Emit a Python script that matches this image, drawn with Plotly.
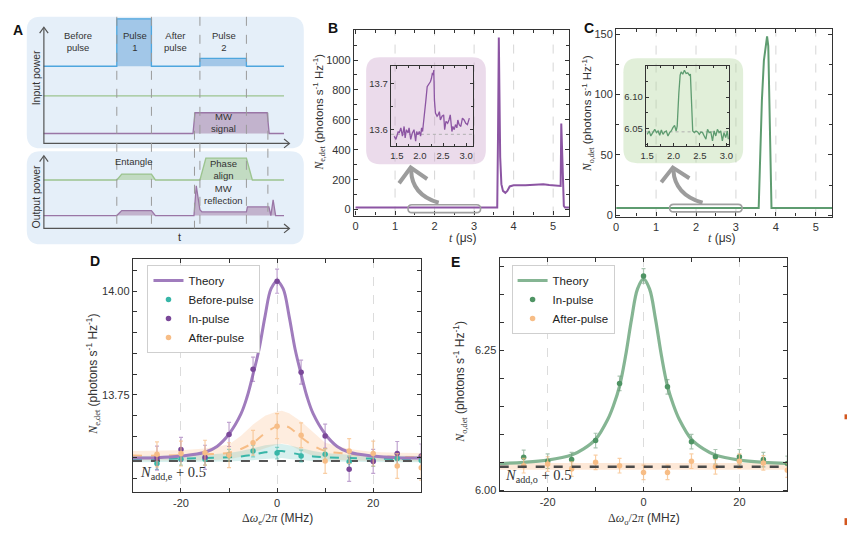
import plotly.graph_objects as go

W, H = 851, 537

# ---------------- Panel A: schematic (pixel units) ----------------
a_in_blue_x = [39, 113, 113, 148, 148, 197, 197, 244, 244, 282]
a_in_blue_y = [66, 66, 18, 18, 66, 66, 58, 58, 66, 66]
a_in_green_x = [39, 282]
a_in_green_y = [96, 96]
a_in_purple_x = [39, 190, 192, 265, 267, 282]
a_in_purple_y = [134, 134, 113, 113, 134, 134]
a_out_green_x = [39, 113, 118, 148, 152, 197, 203, 244, 250, 282]
a_out_green_y = [181, 181, 175, 175, 181, 181, 159, 159, 181, 181]
a_out_purple_x = [39, 113, 118, 148, 152, 191, 193.3, 197, 199, 244, 245, 266.7, 268.7, 271, 273.5, 282]
a_out_purple_y = [217, 217, 212, 212, 217, 217, 187, 211, 213.3, 213.3, 208.3, 208.3, 217, 201, 217, 217]
a_dash_full = [113, 148, 197, 244]
a_dash_mw = [191.5, 265.7]

# ---------------- Panel B ----------------
b_t = [0, 3.585, 3.605, 3.625, 3.64, 3.66, 3.69, 3.73, 3.79, 3.84, 3.9, 4.0, 4.3, 4.6, 4.75, 4.9, 5.05, 5.19, 5.205, 5.22, 5.245, 5.27, 5.3, 5.45]
b_n = [13.6, 13.6, 500, 1150, 800, 350, 170, 125, 112, 125, 155, 162, 162, 164, 170, 165, 160, 158, 575, 420, 150, 25, 13.6, 13.6]
b_ticks = [0, 200, 400, 600, 800, 1000]
b_in_t = [1.443, 1.479, 1.529, 1.55, 1.586, 1.621, 1.657, 1.679, 1.707, 1.743, 1.764, 1.80, 1.836, 1.871, 1.907,
          1.929, 1.957, 1.986, 2.014, 2.036, 2.057, 2.086, 2.107, 2.129, 2.157, 2.179, 2.207, 2.229, 2.25, 2.271,
          2.286, 2.30, 2.314, 2.336, 2.371, 2.393, 2.421, 2.443, 2.479, 2.514, 2.536, 2.564, 2.60, 2.629, 2.657,
          2.693, 2.714, 2.743, 2.771, 2.80, 2.821, 2.85, 2.886, 2.921, 2.957, 2.993, 3.029, 3.071]
b_in_n = [13.586, 13.579, 13.596, 13.593, 13.604, 13.586, 13.607, 13.582, 13.600, 13.593, 13.604, 13.579, 13.593,
          13.600, 13.575, 13.596, 13.589, 13.596, 13.586, 13.604, 13.596, 13.621, 13.632, 13.664, 13.693, 13.696,
          13.700, 13.704, 13.711, 13.723, 13.718, 13.729, 13.664, 13.636, 13.629, 13.632, 13.639, 13.621, 13.629,
          13.632, 13.600, 13.618, 13.614, 13.621, 13.632, 13.596, 13.607, 13.600, 13.611, 13.604, 13.621, 13.611,
          13.607, 13.625, 13.621, 13.614, 13.611, 13.625]
b_in_ref = 13.59
b_grid = [1, 2, 3, 4, 5]

# ---------------- Panel C ----------------
c_t = [0, 3.57, 3.6, 3.65, 3.7, 3.75, 3.78, 3.81, 3.84, 3.87, 3.89, 5.45]
c_n = [6.05, 6.05, 40, 95, 128, 143, 148, 140, 90, 25, 6.05, 6.05]
c_in_t = [1.5, 1.538, 1.569, 1.613, 1.644, 1.675, 1.706, 1.738, 1.769, 1.8, 1.831, 1.863, 1.894, 1.925, 1.956,
          1.988, 2.019, 2.05, 2.069, 2.1, 2.125, 2.144, 2.175, 2.206, 2.238, 2.269, 2.3, 2.319, 2.344, 2.363,
          2.394, 2.425, 2.456, 2.488, 2.519, 2.55, 2.581, 2.613, 2.644, 2.675, 2.706, 2.738, 2.769, 2.8, 2.831,
          2.863, 2.894, 2.925, 2.956, 2.988, 3.019, 3.038]
c_in_n = [6.0411, 6.0464, 6.0385, 6.0438, 6.049, 6.0438, 6.0464, 6.0396, 6.0479, 6.0411, 6.0448, 6.0464, 6.0385,
          6.0438, 6.0464, 6.0516, 6.0552, 6.0464, 6.0542, 6.1063, 6.1349, 6.1401, 6.1365, 6.1427, 6.1375, 6.1385,
          6.1349, 6.1365, 6.0906, 6.0464, 6.0438, 6.0464, 6.0448, 6.0411, 6.0448, 6.0438, 6.0385, 6.0333, 6.049,
          6.0438, 6.0448, 6.0307, 6.0464, 6.0385, 6.049, 6.0438, 6.0464, 6.0307, 6.0438, 6.0359, 6.0464, 6.0333]
c_in_ref = 6.045
c_grid = [1, 2, 3, 4, 5]

# ---------------- Panel D ----------------
d_det = [-25, -20, -15, -10, -5, 0, 5, 10, 15, 20, 25, 30]
d_in = [13.598, 13.619, 13.600, 13.655, 13.812, 14.024, 13.805, 13.651, 13.571, 13.590, 13.609, 13.603]
d_in_err = [0.029] * 12
d_before = [13.585, 13.595, 13.595, 13.605, 13.615, 13.610, 13.603, 13.607, 13.589, 13.592, 13.597, 13.592]
d_before_err = [0.014] * 12
d_after = [13.607, 13.609, 13.611, 13.605, 13.635, 13.675, 13.653, 13.591, 13.615, 13.609, 13.579, 13.575]
d_after_err = [0.03] * 12
d_th_x = [-30, -25, -20, -15, -12.5, -10, -7.5, -6.25, -5, -3.75, -2.5, -1.25, 0,
          1.25, 2.5, 3.75, 5, 6.25, 7.5, 10, 12.5, 15, 20, 25, 30]
d_th_y = [13.598, 13.599, 13.603, 13.612, 13.626, 13.656, 13.705, 13.745, 13.800, 13.860, 13.940, 14.006, 14.024,
          14.006, 13.940, 13.860, 13.800, 13.745, 13.705, 13.656, 13.626, 13.612, 13.603, 13.599, 13.598]
d_fit_x = [-30, -25, -20, -15, -10, -7.5, -5, -2.5, 0, 1, 2.5, 5, 7.5, 10, 15, 20, 25, 30]
d_bfit = [13.596, 13.596, 13.597, 13.598, 13.600, 13.602, 13.606, 13.612, 13.615, 13.615, 13.612, 13.606, 13.602,
          13.600, 13.598, 13.597, 13.596, 13.596]
d_bfit_hi = [13.603, 13.603, 13.604, 13.606, 13.610, 13.615, 13.622, 13.629, 13.632, 13.632, 13.629, 13.622,
             13.615, 13.610, 13.606, 13.604, 13.603, 13.603]
d_bfit_lo = [13.588, 13.588, 13.589, 13.589, 13.590, 13.591, 13.593, 13.596, 13.598, 13.598, 13.596, 13.593,
             13.591, 13.590, 13.589, 13.589, 13.588, 13.588]
d_afit = [13.604, 13.604, 13.605, 13.607, 13.611, 13.620, 13.635, 13.658, 13.675, 13.677, 13.672, 13.648, 13.628,
          13.615, 13.608, 13.603, 13.601, 13.600]
d_afit_hi = [13.615, 13.616, 13.617, 13.621, 13.631, 13.652, 13.679, 13.700, 13.710, 13.712, 13.706, 13.686, 13.660,
             13.635, 13.620, 13.613, 13.611, 13.610]
d_afit_lo = [13.592, 13.592, 13.592, 13.593, 13.595, 13.601, 13.611, 13.622, 13.631, 13.633, 13.630, 13.615, 13.603,
             13.595, 13.592, 13.592, 13.591, 13.590]
d_nadd = 13.591

# ---------------- Panel E ----------------
e_det = [-25, -20, -15, -10, -5, 0, 5, 10, 15, 20, 25, 30]
e_in = [6.059, 6.052, 6.055, 6.089, 6.191, 6.383, 6.185, 6.087, 6.060, 6.060, 6.055, 6.048]
e_in_err = [0.013] * 12
e_after = [6.044, 6.047, 6.038, 6.050, 6.044, 6.032, 6.032, 6.052, 6.042, 6.052, 6.049, 6.036]
e_after_err = [0.013] * 12
e_th_x = [-30, -25, -20, -15, -12.5, -10, -7.5, -6.25, -5, -3.75, -2.5, -1.25, 0,
          1.25, 2.5, 3.75, 5, 6.25, 7.5, 10, 12.5, 15, 20, 25, 30]
e_th_y = [6.048, 6.050, 6.054, 6.063, 6.074, 6.091, 6.126, 6.152, 6.186, 6.240, 6.306, 6.360, 6.378,
          6.360, 6.306, 6.240, 6.186, 6.152, 6.126, 6.091, 6.074, 6.063, 6.054, 6.050, 6.048]
e_band_x = [-30, 30]
e_band_hi = [6.049, 6.049]
e_band_lo = [6.037, 6.037]
e_nadd = 6.0423

# ---------------- colours ----------------
PURPLE = '#8c55a3'
PURPLE_TH = '#a07cbd'
PURPLE_PT = '#7a4899'
TEAL = '#38b6a8'
ORANGE = '#f7bd86'
GREEN = '#5e9c70'
GREEN_TH = '#85b593'
GREEN_PT = '#4f9464'
TXT = '#333333'

# ---------------- panel rectangles (pixels: left, top, right, bottom) ----------------
PB = (352.7, 29, 570, 217)
PC = (617.7, 28, 836, 218)
IB = (390, 66, 473, 147)
IC = (647.7, 66, 731.7, 147)
PD = (129.3, 260.7, 420.7, 496.7)
PE = (500, 260, 790.7, 496)


def xdom(r):
    return [r[0] / W, r[2] / W]


def ydom(r):
    return [1 - r[3] / H, 1 - r[1] / H]


def path_from(cmds, fx, fy):
    s = ''
    for c in cmds:
        op = c[0]
        nums = c[1:]
        pts = []
        for i in range(0, len(nums), 2):
            pts.append(f'{fx(nums[i]):.5f},{fy(nums[i + 1]):.5f}')
        s += op + ' '.join(pts) + ' '
    return s + 'Z'


def rrect(x0, y0, x1, y1, r, fx, fy):
    cmds = [('M', x0 + r, y0), ('L', x1 - r, y0), ('Q', x1, y0, x1, y0 + r), ('L', x1, y1 - r),
            ('Q', x1, y1, x1 - r, y1), ('L', x0 + r, y1), ('Q', x0, y1, x0, y1 - r), ('L', x0, y0 + r),
            ('Q', x0, y0, x0 + r, y0)]
    return path_from(cmds, fx, fy)


def pfx(x):
    return x / W


def pfy(y):
    return 1 - y / H


fig = go.Figure()


def add(tr):
    fig.add_trace(tr)


# ---------- Panel A traces ----------
def a_line(x, y, color, fillcolor=None, width=1.3):
    add(go.Scatter(x=x, y=y, xaxis='x', yaxis='y', mode='lines', line=dict(color=color, width=width),
                   fill='toself' if fillcolor else None, fillcolor=fillcolor, hoverinfo='skip', showlegend=False))


a_line(a_in_blue_x, a_in_blue_y, '#4ea6de', 'rgba(95,160,215,0.5)')
a_line(a_in_green_x, a_in_green_y, '#9cc48f')
a_line(a_in_purple_x, a_in_purple_y, '#9a76a6', 'rgba(165,130,170,0.55)')
a_line(a_out_green_x, a_out_green_y, '#9cc48f', 'rgba(160,200,140,0.5)')
a_line(a_out_purple_x, a_out_purple_y, '#9a76a6', 'rgba(165,130,170,0.55)')
for xs, ys in [([39.3, 39.3, 287], [27, 144, 144]), ([39.3, 39.3, 287], [157, 230, 230]),
               ([35, 39.3, 43.6], [32.5, 26.5, 32.5]), ([35, 39.3, 43.6], [162.5, 156.5, 162.5]),
               ([282, 287.5, 282], [139.5, 144, 148.5]), ([282, 287.5, 282], [225.5, 230, 234.5])]:
    a_line(xs, ys, '#555555', None, 1.2)

# ---------- Panel B ----------
add(go.Scatter(x=b_t, y=b_n, xaxis='x2', yaxis='y2', mode='lines', line=dict(color=PURPLE, width=2),
               showlegend=False, hoverinfo='skip'))
# ---------- Panel C ----------
add(go.Scatter(x=c_t, y=c_n, xaxis='x3', yaxis='y3', mode='lines', line=dict(color=GREEN, width=2),
               showlegend=False, hoverinfo='skip'))
# ---------- Inset B ----------
add(go.Scatter(x=[1.37, 3.15], y=[b_in_ref, b_in_ref], xaxis='x4', yaxis='y4', mode='lines',
               line=dict(color='#b0b0b0', width=1, dash='dot'), showlegend=False, hoverinfo='skip'))
add(go.Scatter(x=b_in_t, y=b_in_n, xaxis='x4', yaxis='y4', mode='lines', line=dict(color=PURPLE, width=1.3),
               showlegend=False, hoverinfo='skip'))
# ---------- Inset C ----------
add(go.Scatter(x=[1.47, 3.05], y=[c_in_ref, c_in_ref], xaxis='x5', yaxis='y5', mode='lines',
               line=dict(color='#b0b0b0', width=1, dash='dot'), showlegend=False, hoverinfo='skip'))
add(go.Scatter(x=c_in_t, y=c_in_n, xaxis='x5', yaxis='y5', mode='lines', line=dict(color=GREEN, width=1.3),
               showlegend=False, hoverinfo='skip'))

# ---------- Panel D ----------
add(go.Scatter(x=d_fit_x, y=d_afit_lo, xaxis='x6', yaxis='y6', mode='lines', line=dict(width=0),
               showlegend=False, hoverinfo='skip'))
add(go.Scatter(x=d_fit_x, y=d_afit_hi, xaxis='x6', yaxis='y6', mode='lines', line=dict(width=0),
               fill='tonexty', fillcolor='rgba(250,190,140,0.28)', showlegend=False, hoverinfo='skip'))
add(go.Scatter(x=d_fit_x, y=d_bfit_lo, xaxis='x6', yaxis='y6', mode='lines', line=dict(width=0),
               showlegend=False, hoverinfo='skip'))
add(go.Scatter(x=d_fit_x, y=d_bfit_hi, xaxis='x6', yaxis='y6', mode='lines', line=dict(width=0),
               fill='tonexty', fillcolor='rgba(60,180,168,0.2)', showlegend=False, hoverinfo='skip'))
add(go.Scatter(x=[-30, 30], y=[d_nadd, d_nadd], xaxis='x6', yaxis='y6', mode='lines',
               line=dict(color='#555555', width=2, dash='dash'), showlegend=False, hoverinfo='skip'))
add(go.Scatter(x=d_fit_x, y=d_afit, xaxis='x6', yaxis='y6', mode='lines', line_shape='spline',
               line=dict(color=ORANGE, width=2, dash='dash'), showlegend=False, hoverinfo='skip'))
add(go.Scatter(x=d_fit_x, y=d_bfit, xaxis='x6', yaxis='y6', mode='lines', line_shape='spline',
               line=dict(color=TEAL, width=2, dash='dash'), showlegend=False, hoverinfo='skip'))
add(go.Scatter(x=d_th_x, y=d_th_y, xaxis='x6', yaxis='y6', mode='lines', line_shape='spline',
               line=dict(color=PURPLE_TH, width=3), name='Theory', legend='legend'))
add(go.Scatter(x=d_det, y=d_before, xaxis='x6', yaxis='y6', mode='markers', name='Before-pulse',
               marker=dict(color=TEAL, size=5.5), legend='legend',
               error_y=dict(type='data', array=d_before_err, color='rgba(56,182,168,0.55)', thickness=1.2, width=2)))
add(go.Scatter(x=d_det, y=d_in, xaxis='x6', yaxis='y6', mode='markers', name='In-pulse',
               marker=dict(color=PURPLE_PT, size=5.5), legend='legend',
               error_y=dict(type='data', array=d_in_err, color='rgba(140,90,170,0.55)', thickness=1.2, width=2)))
add(go.Scatter(x=d_det, y=d_after, xaxis='x6', yaxis='y6', mode='markers', name='After-pulse',
               marker=dict(color=ORANGE, size=5.5), legend='legend',
               error_y=dict(type='data', array=d_after_err, color='rgba(247,189,134,0.75)', thickness=1.2, width=2)))

# ---------- Panel E ----------
add(go.Scatter(x=e_band_x, y=e_band_lo, xaxis='x7', yaxis='y7', mode='lines', line=dict(width=0),
               showlegend=False, hoverinfo='skip'))
add(go.Scatter(x=e_band_x, y=e_band_hi, xaxis='x7', yaxis='y7', mode='lines', line=dict(width=0),
               fill='tonexty', fillcolor='rgba(250,190,140,0.35)', showlegend=False, hoverinfo='skip'))
add(go.Scatter(x=e_th_x, y=e_th_y, xaxis='x7', yaxis='y7', mode='lines', line_shape='spline',
               line=dict(color=GREEN_TH, width=3.2), name='Theory', legend='legend2'))
add(go.Scatter(x=e_det, y=e_in, xaxis='x7', yaxis='y7', mode='markers', name='In-pulse',
               marker=dict(color=GREEN_PT, size=5.5), legend='legend2',
               error_y=dict(type='data', array=e_in_err, color='rgba(100,150,115,0.55)', thickness=1.2, width=2)))
add(go.Scatter(x=e_det, y=e_after, xaxis='x7', yaxis='y7', mode='markers', name='After-pulse',
               marker=dict(color=ORANGE, size=5.5), legend='legend2',
               error_y=dict(type='data', array=e_after_err, color='rgba(247,189,134,0.75)', thickness=1.2, width=2)))
add(go.Scatter(x=[-30, 30], y=[e_nadd, e_nadd], xaxis='x7', yaxis='y7', mode='lines',
               line=dict(color='#4a4a4a', width=2.5, dash='dash'), showlegend=False, hoverinfo='skip'))

# ---------- axes ----------
TICKFONT = dict(size=11, color=TXT)


def frame(**kw):
    d = dict(showline=True, linecolor='#333333', linewidth=1.3, mirror='ticks', ticks='inside', ticklen=4,
             tickcolor='#333333', tickwidth=1, zeroline=False, showgrid=False, tickfont=TICKFONT, fixedrange=True)
    d.update(kw)
    return d


GRID = dict(showgrid=True, gridcolor='#dcdcdc', gridwidth=1, griddash='dash')

layout_axes = dict(
    xaxis=dict(domain=[0, 1], range=[0, W], visible=False, fixedrange=True),
    yaxis=dict(domain=[0, 1], range=[H, 0], visible=False, fixedrange=True),
    xaxis2=frame(domain=xdom(PB), anchor='y2', range=[-0.04, 5.4], dtick=1, tick0=0,
                 minor=dict(dtick=0.5, ticks='inside', ticklen=3, showgrid=False)),
    yaxis2=frame(domain=ydom(PB), anchor='x2', range=[-40, 1203], tickmode='array', tickvals=b_ticks,
                 minor=dict(dtick=100, tick0=0, ticks='inside', ticklen=3, showgrid=False)),
    xaxis3=frame(domain=xdom(PC), anchor='y3', range=[0, 5.41], dtick=1, tick0=0,
                 minor=dict(dtick=0.5, ticks='inside', ticklen=3, showgrid=False)),
    yaxis3=frame(domain=ydom(PC), anchor='x3', range=[-1, 154.4], dtick=50, tick0=0,
                 minor=dict(dtick=25, ticks='inside', ticklen=3, showgrid=False)),
    xaxis4=frame(domain=xdom(IB), anchor='y4', range=[1.37, 3.15], dtick=0.5, tick0=1.5, tickformat='.1f',
                 ticklen=3, tickfont=dict(size=9.5, color=TXT),
                 minor=dict(dtick=0.25, ticks='inside', ticklen=2, showgrid=False)),
    yaxis4=frame(domain=ydom(IB), anchor='x4', range=[13.564, 13.737], dtick=0.1, tick0=13.6, tickformat='.1f',
                 ticklen=3, tickfont=dict(size=9.5, color=TXT),
                 minor=dict(dtick=0.05, ticks='inside', ticklen=2, showgrid=False)),
    xaxis5=frame(domain=xdom(IC), anchor='y5', range=[1.475, 3.05], dtick=0.5, tick0=1.5, tickformat='.1f',
                 ticklen=3, tickfont=dict(size=9.5, color=TXT),
                 minor=dict(dtick=0.25, ticks='inside', ticklen=2, showgrid=False)),
    yaxis5=frame(domain=ydom(IC), anchor='x5', range=[6.022, 6.149], dtick=0.05, tick0=6.05, tickformat='.2f',
                 ticklen=3, tickfont=dict(size=9.5, color=TXT),
                 minor=dict(dtick=0.025, ticks='inside', ticklen=2, showgrid=False)),
    xaxis6=frame(domain=xdom(PD), anchor='y6', range=[-30, 30], tickmode='array', tickvals=[-20, 0, 20],
                 ticktext=['-20', '0', '20'],
                 minor=dict(tickmode='array', tickvals=[-30, -10, 10, 30], ticks='inside', ticklen=4, showgrid=False),
                 **GRID),
    yaxis6=frame(domain=ydom(PD), anchor='x6', range=[13.516, 14.078], dtick=0.25, tick0=13.75, tickformat='.2f',
                 minor=dict(dtick=0.05, tick0=13.75, ticks='inside', ticklen=4, showgrid=False)),
    xaxis7=frame(domain=xdom(PE), anchor='y7', range=[-30, 30], tickmode='array', tickvals=[-20, 0, 20],
                 ticktext=['-20', '0', '20'],
                 minor=dict(tickmode='array', tickvals=[-30, -10, 10, 30], ticks='inside', ticklen=4, showgrid=False),
                 **GRID),
    yaxis7=frame(domain=ydom(PE), anchor='x7', range=[5.998, 6.415], dtick=0.25, tick0=6.0, tickformat='.2f',
                 minor=dict(dtick=0.05, tick0=6.0, ticks='inside', ticklen=4, showgrid=False)),
)

# ---------- shapes ----------
shapes = []
shapes.append(dict(type='path', xref='x', yref='y', layer='below', line=dict(width=0), fillcolor='#e5eff9',
                   path=rrect(22, 16, 302, 149, 14, lambda v: v, lambda v: v)))
shapes.append(dict(type='path', xref='x', yref='y', layer='below', line=dict(width=0), fillcolor='#e5eff9',
                   path=rrect(22, 152, 302, 246, 14, lambda v: v, lambda v: v)))
for xv in a_dash_full:
    shapes.append(dict(type='line', xref='x', yref='y', x0=xv, x1=xv, y0=16, y1=230, layer='above',
                       line=dict(color='#9a9a9a', width=1, dash='dash')))
for xv in a_dash_mw:
    shapes.append(dict(type='line', xref='x', yref='y', x0=xv, x1=xv, y0=113, y1=230, layer='above',
                       line=dict(color='#9a9a9a', width=1, dash='dash')))

for xv in b_grid:
    shapes.append(dict(type='line', xref='x2', yref='paper', x0=xv, x1=xv, y0=pfy(PB[3]), y1=pfy(PB[1]),
                       layer='below', line=dict(color='#d6d6d6', width=1, dash='dash')))
for xv in c_grid:
    shapes.append(dict(type='line', xref='x3', yref='paper', x0=xv, x1=xv, y0=pfy(PC[3]), y1=pfy(PC[1]),
                       layer='below', line=dict(color='#d6d6d6', width=1, dash='dash')))
shapes.append(dict(type='path', xref='paper', yref='paper', layer='below', line=dict(width=0),
                   fillcolor='rgba(205,165,205,0.4)', path=rrect(365, 57, 486, 165, 14, pfx, pfy)))
shapes.append(dict(type='path', xref='paper', yref='paper', layer='below', line=dict(width=0),
                   fillcolor='rgba(175,212,155,0.38)', path=rrect(625, 58, 746, 164, 14, pfx, pfy)))

for (x0, y0, x1, y1) in [(407.3, 206, 480.7, 214), (671.7, 205.7, 745, 213.3)]:
    shapes.append(dict(type='path', xref='paper', yref='paper', layer='above', fillcolor='rgba(0,0,0,0)',
                       line=dict(color='#a0a0a0', width=1.6), path=rrect(x0, y0, x1, y1, 4, pfx, pfy)))
for (sx, sy, cx, cy, ex, ey, lx, ly, tx, ty, rx, ry) in [
        (438.3, 204, 411, 196, 410.5, 171, 398.3, 184.3, 410, 168.5, 426.7, 180),
        (705, 204, 677, 196, 675.5, 171, 663.3, 183.3, 675, 168.5, 691.7, 179.3)]:
    shapes.append(dict(type='path', xref='paper', yref='paper', layer='above',
                       line=dict(color='#9c9c9c', width=4),
                       path=f'M{pfx(sx):.5f},{pfy(sy):.5f} Q{pfx(cx):.5f},{pfy(cy):.5f} {pfx(ex):.5f},{pfy(ey):.5f}'))
    shapes.append(dict(type='path', xref='paper', yref='paper', layer='above',
                       line=dict(color='#9c9c9c', width=4),
                       path=f'M{pfx(lx):.5f},{pfy(ly):.5f} L{pfx(tx):.5f},{pfy(ty):.5f} L{pfx(rx):.5f},{pfy(ry):.5f}'))
for (y0, y1) in [(418, 423), (523, 530)]:
    shapes.append(dict(type='rect', xref='paper', yref='paper', x0=pfx(848.5), x1=pfx(851), y0=pfy(y1), y1=pfy(y0),
                       line=dict(width=0), fillcolor='#d2561e'))

# ---------- annotations ----------
anns = []


def ann(text, x, y, size=12, angle=0, color=TXT, family=None, xanchor='center', yanchor='middle'):
    f = dict(size=size, color=color)
    if family:
        f['family'] = family
    anns.append(dict(text=text, x=pfx(x), y=pfy(y), xref='paper', yref='paper', showarrow=False,
                     textangle=angle, font=f, xanchor=xanchor, yanchor=yanchor))


BOLD = 'Liberation Sans Narrow, Liberation Sans, Arial'
for letter, x, y in [('A', 13, 29), ('B', 332, 27), ('C', 590, 27), ('D', 91, 263), ('E', 455, 264)]:
    ann(f'<b>{letter}</b>', x, y, size=14, color='#111111', family=BOLD)

ann('Before<br>pulse', 74, 41, size=9.5)
ann('Pulse<br>1', 131, 41, size=9.5)
ann('After<br>pulse', 172, 41, size=9.5)
ann('Pulse<br>2', 221, 41, size=9.5)
ann('MW<br>signal', 221, 123, size=9.5)
ann('Entangle', 130, 162, size=9.5)
ann('Phase<br>align', 221, 170, size=9.5)
ann('MW<br>reflection', 221, 196, size=9.5)
ann('Input power', 31, 77.5, size=10.5, angle=-90)
ann('Output power', 31, 198, size=10.5, angle=-90)
ann('t', 176, 239, size=11)

SERIF = 'Liberation Serif, DejaVu Serif, serif'
NE = f'<span style="font-family:{SERIF}"><i>N</i><sub>e,det</sub></span>'
NO = f'<span style="font-family:{SERIF}"><i>N</i><sub>o,det</sub></span>'
UNITS = ' (photons s<sup>-1</sup> Hz<sup>-1</sup>)'
ann(NE + UNITS, 317, 112, size=11.5, angle=-90)
ann(NO + UNITS, 588.5, 114, size=11.5, angle=-90)
ann(NE + UNITS, 89, 378, size=12, angle=-90)
ann(NO + UNITS, 460, 385, size=12, angle=-90)
ann(f'<span style="font-family:{SERIF}"><i>t</i></span> (μs)', 463, 240, size=12)
ann(f'<span style="font-family:{SERIF}"><i>t</i></span> (μs)', 725, 239.5, size=12)
ann(f'<span style="font-family:{SERIF}">Δ<i>ω</i><sub>e</sub>/2<i>π</i></span> (MHz)', 275.7, 524, size=12)
ann(f'<span style="font-family:{SERIF}">Δ<i>ω</i><sub>o</sub>/2<i>π</i></span> (MHz)', 645.5, 524, size=12)
ann('<i>N</i><sub>add,e</sub> + 0.5', 134, 477, size=14.5, family=SERIF, xanchor='left')
ann('<i>N</i><sub>add,o</sub> + 0.5', 503, 480, size=14.5, family=SERIF, xanchor='left')

LEG = dict(xanchor='left', yanchor='top', bgcolor='white', bordercolor='#cfcfcf', borderwidth=1,
           font=dict(size=11.5, color='#222222'), itemwidth=30, tracegroupgap=0, traceorder='normal')

fig.update_layout(
    width=W, height=H, autosize=False, margin=dict(l=0, r=0, t=0, b=0),
    paper_bgcolor='white', plot_bgcolor='rgba(0,0,0,0)',
    font=dict(family='Liberation Sans, Arial, sans-serif', size=12, color=TXT),
    shapes=shapes, annotations=anns,
    legend=dict(x=144 / W, y=1 - 267 / H, **LEG),
    legend2=dict(x=512 / W, y=1 - 267 / H, **LEG),
    **layout_axes,
)

fig.write_html('out.html', config={'displayModeBar': False},
               post_script="document.body.style.margin='0px';")
